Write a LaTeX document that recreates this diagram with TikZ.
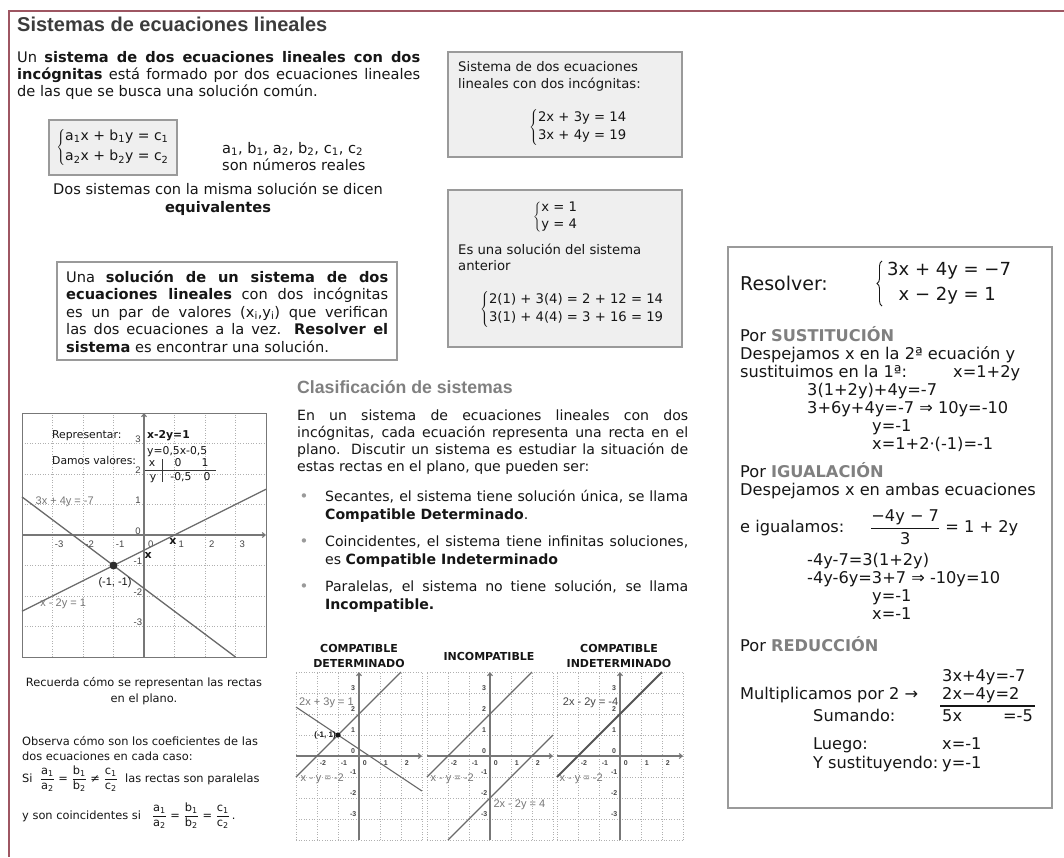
\documentclass[tikz,border=0pt]{standalone}
\usepackage{fontspec}
\setmainfont{DejaVu Sans}
\newfontfamily\arialf{Liberation Sans}
\usetikzlibrary{arrows.meta,decorations.pathreplacing}
\definecolor{framec}{HTML}{9E5662}
\definecolor{txt}{HTML}{161616}
\definecolor{titlec}{HTML}{3C3C3C}
\definecolor{headg}{HTML}{808080}
\definecolor{boxfill}{HTML}{EFEFEF}
\definecolor{boxline}{HTML}{9A9A9A}
\definecolor{gridc}{HTML}{B0B0B0}
\definecolor{axisc}{HTML}{777777}
\definecolor{linec}{HTML}{6A6A6A}
\definecolor{lblc}{HTML}{777777}
\newcommand\fsz[2]{\fontsize{#1}{#2}\selectfont}
\newcommand\sub[1]{\textsubscript{#1}}
\newcommand\fr[2]{\frac{\mbox{#1}}{\mbox{#2}}}
\tikzset{
  bw/.style={anchor=base west, inner sep=0pt, text=txt},
  bc/.style={anchor=base, inner sep=0pt, text=txt},
  be/.style={anchor=base east, inner sep=0pt, text=txt},
  body/.style={font=\fsz{14.6}{17}},
  para/.style={font=\fsz{14.1}{17}},
  small/.style={font=\fsz{11.4}{14}},
  gsmall/.style={font=\fsz{10.8}{13}},
  boxt/.style={font=\fsz{13.2}{16}},
  rbox/.style={font=\fsz{16.2}{18}},
  panel/.style={fill=boxfill, draw=boxline, line width=1.2pt},
  gridl/.style={draw=gridc, dotted, line width=0.6pt},
  axisl/.style={draw=axisc, line width=1.1pt, -{Straight Barb[length=3pt,width=5pt]}},
  graphl/.style={draw=linec, line width=1.3pt},
  glabel/.style={text=lblc, font=\arialf\fsz{11}{13}, inner sep=0pt},
  tick/.style={text=txt!80, font=\arialf\fsz{9.5}{11}, inner sep=0pt},
  stick/.style={text=txt!80, font=\arialf\bfseries\fsz{7}{8}, inner sep=0pt},
  sglabel/.style={text=lblc, font=\arialf\fsz{11}{13}, inner sep=0pt},
  gtitle/.style={anchor=base, inner sep=0pt, text=txt, font=\bfseries\fsz{11}{13}},
  sysbrace/.style={draw=txt, line width=0.9pt, decorate, decoration={brace, amplitude=5pt}},
}
\newcommand\smallaxes{%
  \draw[gridl, step=1] (-3,-4) grid (3,4);
  \draw[axisl] (-3,0) -- (3,0);
  \draw[axisl] (0,-4) -- (0,4);
  \foreach \k in {-2,-1,0,1,2} \node[stick] (tx\k) at (\k+0.28,-0.32) {\k};
  \foreach \k in {-3,-2,-1,0,1,2,3} \node[stick] (ty\k) at (-0.28,\k+0.22) {\k};
}
\begin{document}
\begin{tikzpicture}[x=1pt,y=-1pt]
\useasboundingbox[fill=white] (0,0) rectangle (1064,857);
\draw[framec, line width=2pt] (1064,11) -- (8.5,11) -- (8.5,857);

% title
\node[bw, text=titlec, font=\arialf\bfseries\fsz{20}{24}] (title) at (17,31) {Sistemas de ecuaciones lineales};

% paragraph 1
\node[bw, body] (p1a) at (17,62) {\makebox[403pt][s]{Un \textbf{sistema de dos ecuaciones lineales con dos}}};
\node[bw, body] (p1b) at (17,79) {\makebox[403pt][s]{\textbf{incógnitas} está formado por dos ecuaciones lineales}};
\node[bw, body] (p1c) at (17,96) {de las que se busca una solución común.};

% general system box
\draw[panel] (49,120) rectangle (177,175);
\node[inner sep=0pt, text=txt, font=\fsz{14}{16}] (sysS) at (113,147.5) {$\left\{\begin{tabular}{@{}l@{}}a\sub1x + b\sub1y = c\sub1\\[4pt]a\sub2x + b\sub2y = c\sub2\end{tabular}\right.$};
\node[bw, body] (coefa) at (222,153) {a\sub1, b\sub1, a\sub2, b\sub2, c\sub1, c\sub2};
\node[bw, body] (coefb) at (222,170) {son números reales};
\node[bc, body] (eqa) at (218,194) {Dos sistemas con la misma solución se dicen};
\node[bc, body] (eqb) at (218,212) {\textbf{equivalentes}};

% box A
\draw[panel] (448,52) rectangle (682,157);
\node[bw, boxt] (ba1) at (458,71) {Sistema de dos ecuaciones};
\node[bw, boxt] (ba2) at (458,88) {lineales con dos incógnitas:};
\node[anchor=west, inner sep=0pt, text=txt, font=\fsz{13.2}{16}] (sysA) at (529,127.5) {$\left\{\begin{tabular}{@{}l@{}}2x + 3y = 14\\[2pt]3x + 4y = 19\end{tabular}\right.$};

% box B
\draw[panel] (448,190) rectangle (682,347);
\node[anchor=west, inner sep=0pt, text=txt, font=\fsz{13.2}{16}] (sysB1) at (533,217) {$\left\{\begin{tabular}{@{}l@{}}x = 1\\[1pt]y = 4\end{tabular}\right.$};
\node[bw, boxt] (bb1) at (458,254) {Es una solución del sistema};
\node[bw, boxt] (bb2) at (458,270) {anterior};
\node[anchor=west, inner sep=0pt, text=txt, font=\fsz{13.2}{16}] (sysB2) at (480,309.5) {$\left\{\begin{tabular}{@{}l@{}}2(1) + 3(4) = 2 + 12 = 14\\[2pt]3(1) + 4(4) = 3 + 16 = 19\end{tabular}\right.$};

% box C
\draw[draw=boxline, line width=1.2pt, fill=white] (57,262) rectangle (397,360);
\node[bw, body] (bc1) at (66,282) {\makebox[322pt][s]{Una \textbf{solución de un sistema de dos}}};
\node[bw, body] (bc2) at (66,299.5) {\makebox[322pt][s]{\textbf{ecuaciones lineales} con dos incógnitas}};
\node[bw, body] (bc3) at (66,317) {\makebox[322pt][s]{es un par de valores (x\sub{i},y\sub{i}) que verifican}};
\node[bw, body] (bc4) at (66,334.5) {\makebox[322pt][s]{las dos ecuaciones a la vez. \textbf{Resolver el}}};
\node[bw, body] (bc5) at (66,352) {\textbf{sistema} es encontrar una solución.};

% clasificacion
\node[bw, text=headg, font=\arialf\bfseries\fsz{17.7}{20}] (clas) at (297,393) {Clasificación de sistemas};
\node[bw, para] (c1) at (297,420) {\makebox[391pt][s]{En un sistema de ecuaciones lineales con dos}};
\node[bw, para] (c2) at (297,437) {\makebox[391pt][s]{incógnitas, cada ecuación representa una recta en el}};
\node[bw, para] (c3) at (297,454) {\makebox[391pt][s]{plano. Discutir un sistema es estudiar la situación de}};
\node[bw, para] (c4) at (297,471.5) {estas rectas en el plano, que pueden ser:};
\node[bc, text=headg!80, font=\fsz{15}{15}] (bul1) at (304,501) {•};
\node[bc, text=headg!80, font=\fsz{15}{15}] (bul2) at (304,546) {•};
\node[bc, text=headg!80, font=\fsz{15}{15}] (bul3) at (304,591) {•};
\node[bw, para] (s1a) at (325,501) {\makebox[363pt][s]{Secantes, el sistema tiene solución única, se llama}};
\node[bw, para] (s1b) at (325,519) {\textbf{Compatible Determinado}.};
\node[bw, para] (s2a) at (325,546) {\makebox[363pt][s]{Coincidentes, el sistema tiene infinitas soluciones,}};
\node[bw, para] (s2b) at (325,564) {es \textbf{Compatible Indeterminado}};
\node[bw, para] (s3a) at (325,591) {\makebox[363pt][s]{Paralelas, el sistema no tiene solución, se llama}};
\node[bw, para] (s3b) at (325,609) {\textbf{Incompatible.}};

% graph 1
\begin{scope}[shift={(144,535)}, x=30.5pt, y=30.5pt]
  \draw[gridl, step=1] (-4,-4) grid (4,4);
  \draw[draw=axisc, line width=1pt] (-4,-4) rectangle (4,4);
  \draw[axisl] (-4,0) -- (4,0);
  \draw[axisl] (0,-4) -- (0,4);
  \foreach \k in {-3,-2,-1,0,1,2,3} \node[tick] (gx\k) at (\k+0.22,-0.3) {\k};
  \foreach \k in {-3,-2,-1,0,1,2,3} \node[tick] (gy\k) at (-0.2,\k+0.13) {\k};
  \draw[graphl] (-4,1.25) -- (3,-4);
  \draw[graphl] (-4,-2.5) -- (4,1.5);
  \fill[txt!90] (-1,-1) circle[radius=4pt];
  \node[glabel] (l1) at (-2.6,1.1) {3x + 4y = -7};
  \node[glabel] (l2) at (-2.65,-2.25) {x - 2y = 1};
  \node[glabel, text=txt] (pt) at (-0.95,-1.55) {(-1, -1)};
  \node[inner sep=0pt, text=txt, font=\bfseries\fsz{11}{12}] (mk1) at (0.14,-0.68) {x};
  \node[inner sep=0pt, text=txt, font=\bfseries\fsz{11}{12}] (mk2) at (0.95,-0.2) {x};
\end{scope}
\node[bw, gsmall] (rep) at (52,438) {Representar:};
\node[bw, gsmall] (dam) at (52,464) {Damos valores:};
\node[bw, gsmall] (eqr) at (147,438) {\textbf{x-2y=1}};
\node[bw, gsmall] (eqy) at (147,454) {y=0,5x-0,5};
\node[bc, gsmall] (tx) at (152,466) {x};
\node[bc, gsmall] (t0) at (178,466) {0};
\node[bc, gsmall] (t1) at (205,466) {1};
\node[bc, gsmall] (ty) at (153,480) {y};
\node[bc, gsmall] (tm) at (181,480) {-0,5};
\node[bc, gsmall] (tz) at (207,480) {0};
\draw[txt!85, line width=0.9pt] (145,470) -- (216,470);
\draw[txt!85, line width=0.9pt] (162,459) -- (162,482);

% left bottom text
\node[bc, small] (rec1) at (144,686) {Recuerda cómo se representan las rectas};
\node[bc, small] (rec2) at (144,702) {en el plano.};
\node[bw, small] (obs1) at (22,745) {Observa cómo son los coeficientes de las};
\node[bw, small] (obs2) at (22,760) {dos ecuaciones en cada caso:};
\node[bw, small] (obs3) at (22,782) {Si\ \ $\displaystyle\fr{a\sub1}{a\sub2}\mbox{ = }\fr{b\sub1}{b\sub2}\mbox{ ≠ }\fr{c\sub1}{c\sub2}$\ \ las rectas son paralelas};
\node[bw, small] (obs4) at (22,819) {y son coincidentes si\ \ \ $\displaystyle\fr{a\sub1}{a\sub2}\mbox{ = }\fr{b\sub1}{b\sub2}\mbox{ = }\fr{c\sub1}{c\sub2}$\,.};

% small graphs titles
\node[gtitle] (t2a) at (359,652) {COMPATIBLE};
\node[gtitle] (t2b) at (359,667) {DETERMINADO};
\node[gtitle] (t3) at (489,660) {INCOMPATIBLE};
\node[gtitle] (t4a) at (619,652) {COMPATIBLE};
\node[gtitle] (t4b) at (619,667) {INDETERMINADO};

% graph CD
\begin{scope}[shift={(359,756)}, x=21pt, y=21pt, name prefix=gcd-]
  \smallaxes
  \draw[graphl, line width=1.1pt] (-3,-1) -- (2,4);
  \draw[graphl, line width=1.1pt] (-3,2.3333) -- (3,-1.6667);
  \fill[txt] (-1,1) circle[radius=2.6pt];
  \node[sglabel] (la) at (-1.55,2.52) {2x + 3y = 1};
  \node[sglabel] (lb) at (-1.75,-1.1) {x - y = -2};
  \node[anchor=east, inner sep=0pt, text=txt, font=\arialf\bfseries\fsz{8}{9}] (lp) at (-1.1,1.0) {(-1, 1)};
\end{scope}
% graph INC
\begin{scope}[shift={(490,756)}, x=21pt, y=21pt, name prefix=ginc-]
  \smallaxes
  \draw[graphl, line width=1.1pt] (-3,-1) -- (2,4);
  \draw[graphl, line width=1.1pt] (-2,-4) -- (3,1);
  \node[sglabel] (la) at (-1.8,-1.1) {x - y = -2};
  \node[sglabel] (lb) at (1.4,-2.3) {2x - 2y = 4};
\end{scope}
% graph CI
\begin{scope}[shift={(620,756)}, x=21pt, y=21pt, name prefix=gci-]
  \smallaxes
  \draw[graphl, draw=linec!80!black, line width=2pt] (-3,-1) -- (2,4);
  \node[sglabel, text=txt!80] (la) at (-1.4,2.55) {2x - 2y = -4};
  \node[sglabel] (lb) at (-1.85,-1.1) {x - y = -2};
\end{scope}

% right box
\draw[draw=boxline, line width=1.4pt, fill=white] (728,247) rectangle (1052,808);
\node[bw, font=\fsz{19}{21}] (res) at (740,290) {Resolver:};
\node[anchor=west, inner sep=0pt, text=txt, font=\fsz{18}{21}] (sysR) at (887,283.5) {\begin{tabular}{@{}r@{ }l@{}}3x + 4y & = −7\\[4pt]x − 2y & = 1\end{tabular}};
\coordinate (brB) at (882,306);
\coordinate (brT) at (882,261);
\draw[sysbrace] (brB) -- (brT);
\node[bw, rbox] (r1) at (740,341) {Por \textcolor{headg}{\textbf{SUSTITUCIÓN}}};
\node[bw, rbox] (r2) at (740,359) {Despejamos x en la 2ª ecuación y};
\node[bw, rbox] (r3) at (740,377) {sustituimos en la 1ª:};
\node[bw, rbox] (r3b) at (953,377) {x=1+2y};
\node[bw, rbox] (r4) at (807,395) {3(1+2y)+4y=-7};
\node[bw, rbox] (r5) at (807,413) {3+6y+4y=-7 ⇒ 10y=-10};
\node[bw, rbox] (r6) at (872,431) {y=-1};
\node[bw, rbox] (r7) at (872,449) {x=1+2·(-1)=-1};
\node[bw, rbox] (r8) at (740,477) {Por \textcolor{headg}{\textbf{IGUALACIÓN}}};
\node[bw, rbox] (r9) at (740,495) {Despejamos x en ambas ecuaciones};
\node[bw, rbox] (r10) at (740,532) {e igualamos:};
\node[anchor=west, inner sep=0pt, text=txt, font=\fsz{16.2}{18}] (r10b) at (870,527) {$\displaystyle\fr{−4y − 7}{3}\mbox{ = 1 + 2y}$};
\node[bw, rbox] (r11) at (807,565) {-4y-7=3(1+2y)};
\node[bw, rbox] (r12) at (807,583) {-4y-6y=3+7 ⇒ -10y=10};
\node[bw, rbox] (r13) at (872,601) {y=-1};
\node[bw, rbox] (r14) at (872,619) {x=-1};
\node[bw, rbox] (r15) at (740,651) {Por \textcolor{headg}{\textbf{REDUCCIÓN}}};
\node[bw, rbox] (r16) at (942,681) {3x+4y=-7};
\node[bw, rbox] (r17) at (740,699) {Multiplicamos por 2 →};
\node[bw, rbox] (r17b) at (942,699) {2x−4y=2};
\draw[txt, line width=1.2pt] (940,706) -- (1035,706);
\node[bw, rbox] (r18) at (813,721) {Sumando:};
\node[bw, rbox] (r18b) at (942,721) {5x};
\node[be, rbox] (r18c) at (1033,721) {=-5};
\node[bw, rbox] (r19) at (813,749) {Luego:};
\node[bw, rbox] (r19b) at (942,749) {x=-1};
\node[bw, rbox] (r20) at (813,768) {Y sustituyendo:};
\node[bw, rbox] (r20b) at (942,768) {y=-1};
\end{tikzpicture}
\end{document}
